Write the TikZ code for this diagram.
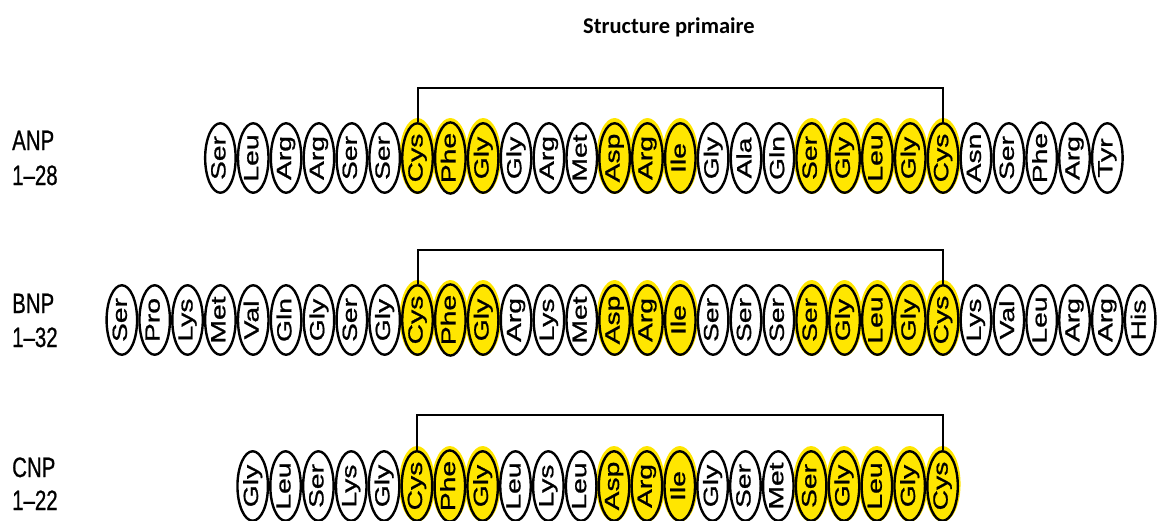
\documentclass[tikz,border=0pt]{standalone}
\usepackage{fontspec}
\setmainfont{Liberation Sans}
\newfontfamily\titlefont{Carlito}
\newfontfamily\heavyfont{Liberation Sans}[FakeBold=0.9]
\usetikzlibrary{shapes.geometric}
\definecolor{hl}{RGB}{255,230,0}
\newcommand{\aatxt}[1]{\rotatebox{90}{\scalebox{1.38}[1]{\vphantom{Ag}#1}}}
\tikzset{
  aa/.style={ellipse, draw, line width=2.4pt, minimum width=30.5pt, minimum height=69.5pt,
    inner sep=0pt, fill=white, font=\heavyfont\fontsize{20.5}{21}\selectfont},
  aahl/.style={aa, fill=hl},
  glow/.style={ellipse, fill=hl, minimum width=36pt, minimum height=76pt, inner sep=0pt, draw=none},
  bond/.style={line width=2pt},
  lbl/.style={anchor=base west, inner sep=0pt, font=\heavyfont\fontsize{28}{28}\selectfont},
  ttl/.style={inner sep=0pt, font=\titlefont\bfseries\fontsize{22.5}{23}\selectfont},
}
\begin{document}
\begin{tikzpicture}[x=1pt,y=-1pt]
\useasboundingbox (0,0) rectangle (1159,520);
\fill[white] (0,0) rectangle (1159,520);

\node[ttl] (title) at (669,27) {Structure primaire};

% labels
\node[lbl] (anp) at (12,150) {\scalebox{0.73}[1]{ANP}};
\node[lbl] (anpn) at (12,185) {\scalebox{0.73}[1]{1–28}};
\node[lbl] (bnp) at (12,313) {\scalebox{0.73}[1]{BNP}};
\node[lbl] (bnpn) at (12,347) {\scalebox{0.73}[1]{1–32}};
\node[lbl] (cnp) at (12,477) {\scalebox{0.73}[1]{CNP}};
\node[lbl] (cnpn) at (12,510) {\scalebox{0.73}[1]{1–22}};

% ANP row
\def\rowA{Ser/0,Leu/0,Arg/0,Arg/0,Ser/0,Ser/0,Cys/1,Phe/1,Gly/1,Gly/0,Arg/0,Met/0,Asp/1,Arg/1,Ile/1,Gly/0,Ala/0,Gln/0,Ser/1,Gly/1,Leu/1,Gly/1,Cys/1,Asn/0,Ser/0,Phe/0,Arg/0,Tyr/0}
\foreach \n/\h [count=\i from 0] in \rowA {
  \ifnum\h=1 \node[glow] (ga\i) at ({220.4+\i*32.85},156) {}; \fi
}
\foreach \n/\h [count=\i from 0] in \rowA {
  \ifnum\h=1 \node[aahl] (a\i) at ({220.4+\i*32.85},158) {\aatxt{\n}};
  \else \node[aa] (a\i) at ({220.4+\i*32.85},158) {\aatxt{\n}}; \fi
}
\draw[bond] (a6.north) -- ++(0,-34) -| (a22.north);

% BNP row
\def\rowB{Ser/0,Pro/0,Lys/0,Met/0,Val/0,Gln/0,Gly/0,Ser/0,Gly/0,Cys/1,Phe/1,Gly/1,Arg/0,Lys/0,Met/0,Asp/1,Arg/1,Ile/1,Ser/0,Ser/0,Ser/0,Ser/1,Gly/1,Leu/1,Gly/1,Cys/1,Lys/0,Val/0,Leu/0,Arg/0,Arg/0,His/0}
\foreach \n/\h [count=\i from 0] in \rowB {
  \ifnum\h=1 \node[glow] (gb\i) at ({121.85+\i*32.85},318) {}; \fi
}
\foreach \n/\h [count=\i from 0] in \rowB {
  \ifnum\h=1 \node[aahl] (b\i) at ({121.85+\i*32.85},320) {\aatxt{\n}};
  \else \node[aa] (b\i) at ({121.85+\i*32.85},320) {\aatxt{\n}}; \fi
}
\draw[bond] (b9.north) -- ++(0,-34) -| (b25.north);

% CNP row
\def\rowC{Gly/0,Leu/0,Ser/0,Lys/0,Gly/0,Cys/1,Phe/1,Gly/1,Leu/0,Lys/0,Leu/0,Asp/1,Arg/1,Ile/1,Gly/0,Ser/0,Met/0,Ser/1,Gly/1,Leu/1,Gly/1,Cys/1}
\foreach \n/\h [count=\i from 0] in \rowC {
  \ifnum\h=1 \node[glow] (gc\i) at ({252.7+\i*32.85},484) {}; \fi
}
\foreach \n/\h [count=\i from 0] in \rowC {
  \ifnum\h=1 \node[aahl] (c\i) at ({252.7+\i*32.85},486) {\aatxt{\n}};
  \else \node[aa] (c\i) at ({252.7+\i*32.85},486) {\aatxt{\n}}; \fi
}
\draw[bond] (c5.north) -- ++(0,-35) -| (c21.north);
\end{tikzpicture}
\end{document}
